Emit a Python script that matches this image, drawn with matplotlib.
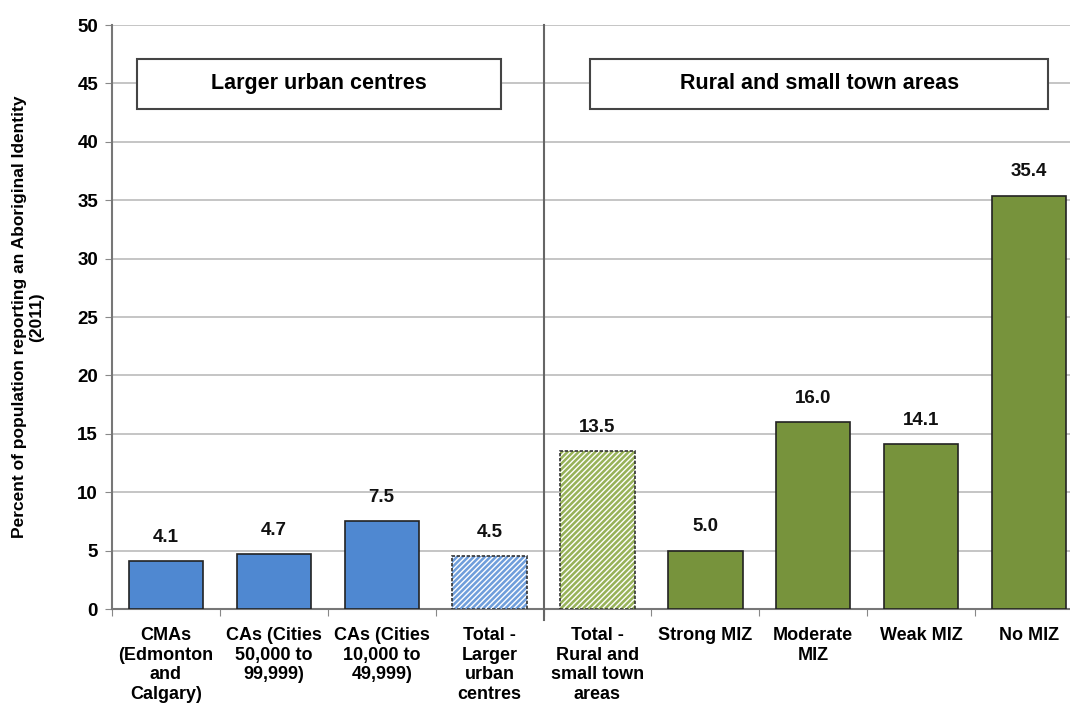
import numpy as np
import matplotlib.pyplot as plt

plt.rcParams['font.family'] = ['Liberation Sans', 'DejaVu Sans']
plt.rcParams['font.weight'] = 'bold'
plt.rcParams['hatch.linewidth'] = 1.0

# Data
categories = ['CMAs\n(Edmonton\nand\nCalgary)', 'CAs (Cities\n50,000 to\n99,999)',
              'CAs (Cities\n10,000 to\n49,999)', 'Total -\nLarger\nurban\ncentres',
              'Total -\nRural and\nsmall town\nareas', 'Strong MIZ', 'Moderate\nMIZ',
              'Weak MIZ', 'No MIZ']
values = [4.1, 4.7, 7.5, 4.5, 13.5, 5.0, 16.0, 14.1, 35.4]
labels = ['4.1', '4.7', '7.5', '4.5', '13.5', '5.0', '16.0', '14.1', '35.4']
is_total = [False, False, False, True, True, False, False, False, False]
group_names = ['Larger urban centres', 'Rural and small town areas']

blue = '#4F88D1'
blue_light = '#6F9EDB'
green = '#77933C'
green_light = '#97B259'
colors = [blue, blue, blue, blue_light, green_light, green, green, green, green]

W, H = 1070, 712
fig = plt.figure(figsize=(W / 100, H / 100), dpi=100)
left, right, bottom, top = 112, 1083, 609, 25
ax = fig.add_axes([left / W, 1 - bottom / H, (right - left) / W, (bottom - top) / H])

x = np.arange(len(values))
bw = 0.69
for i, (v, c, t) in enumerate(zip(values, colors, is_total)):
    if t:
        ax.bar(x[i], v, width=bw, color=c, edgecolor='white', hatch='//////',
               linewidth=0, zorder=3)
        ax.bar(x[i], v, width=bw, color='none', edgecolor='#333333',
               linewidth=1.2, linestyle=(0, (2, 1)), zorder=4)
    else:
        ax.bar(x[i], v, width=bw, color=c, edgecolor='#222222', linewidth=1.2, zorder=3)
    ax.text(x[i], v + 1.3, labels[i], ha='center', va='bottom', fontsize=13.5,
            fontweight='bold', color='#111111')

ax.set_xlim(-0.5, len(values) - 0.5)
ax.set_ylim(0, 50)
ax.set_yticks(np.arange(0, 51, 5))
ax.set_yticklabels([str(t) for t in range(0, 51, 5)], fontsize=13.5, fontweight='bold')
ax.yaxis.grid(True, color='#BBBBBB', linewidth=1.2, zorder=0)
ax.set_axisbelow(True)

# category labels between boundary ticks
ax.set_xticks(np.arange(0, len(values) + 1) - 0.5)
ax.set_xticklabels([])
ax.set_xticks(x, minor=True)
ax.set_xticklabels(categories, minor=True, fontsize=13, fontweight='bold',
                   linespacing=1.2, va='top')
ax.tick_params(axis='x', which='minor', length=0, pad=13)
ax.tick_params(axis='x', which='major', length=5, color='#888888')
ax.tick_params(axis='y', length=5, color='#888888', pad=5)

for s in ['top', 'right']:
    ax.spines[s].set_visible(False)
ax.spines['left'].set_color('#777777')
ax.spines['bottom'].set_color('#777777')
ax.spines['left'].set_linewidth(1.5)
ax.spines['bottom'].set_linewidth(1.5)

# divider between groups
ax.plot([3.5, 3.5], [-0.9, 50], color='#666666', linewidth=1.5, clip_on=False, zorder=5)

# group title boxes
for (xa, xb), name in zip([(-0.27, 3.11), (3.93, 8.18)], group_names):
    ax.add_patch(plt.Rectangle((xa, 42.8), xb - xa, 4.3, facecolor='white',
                               edgecolor='#444444', linewidth=1.5, zorder=6))
    ax.text((xa + xb) / 2, 44.95, name, ha='center', va='center',
            fontsize=15.5, fontweight='bold', zorder=7)

fig.text(28 / W, 1 - 317 / H,
         'Percent of population reporting an Aboriginal Identity\n(2011)',
         rotation=90, ha='center', va='center', fontsize=12.5, fontweight='bold',
         linespacing=1.2)

fig.savefig('out.png', dpi=100)
